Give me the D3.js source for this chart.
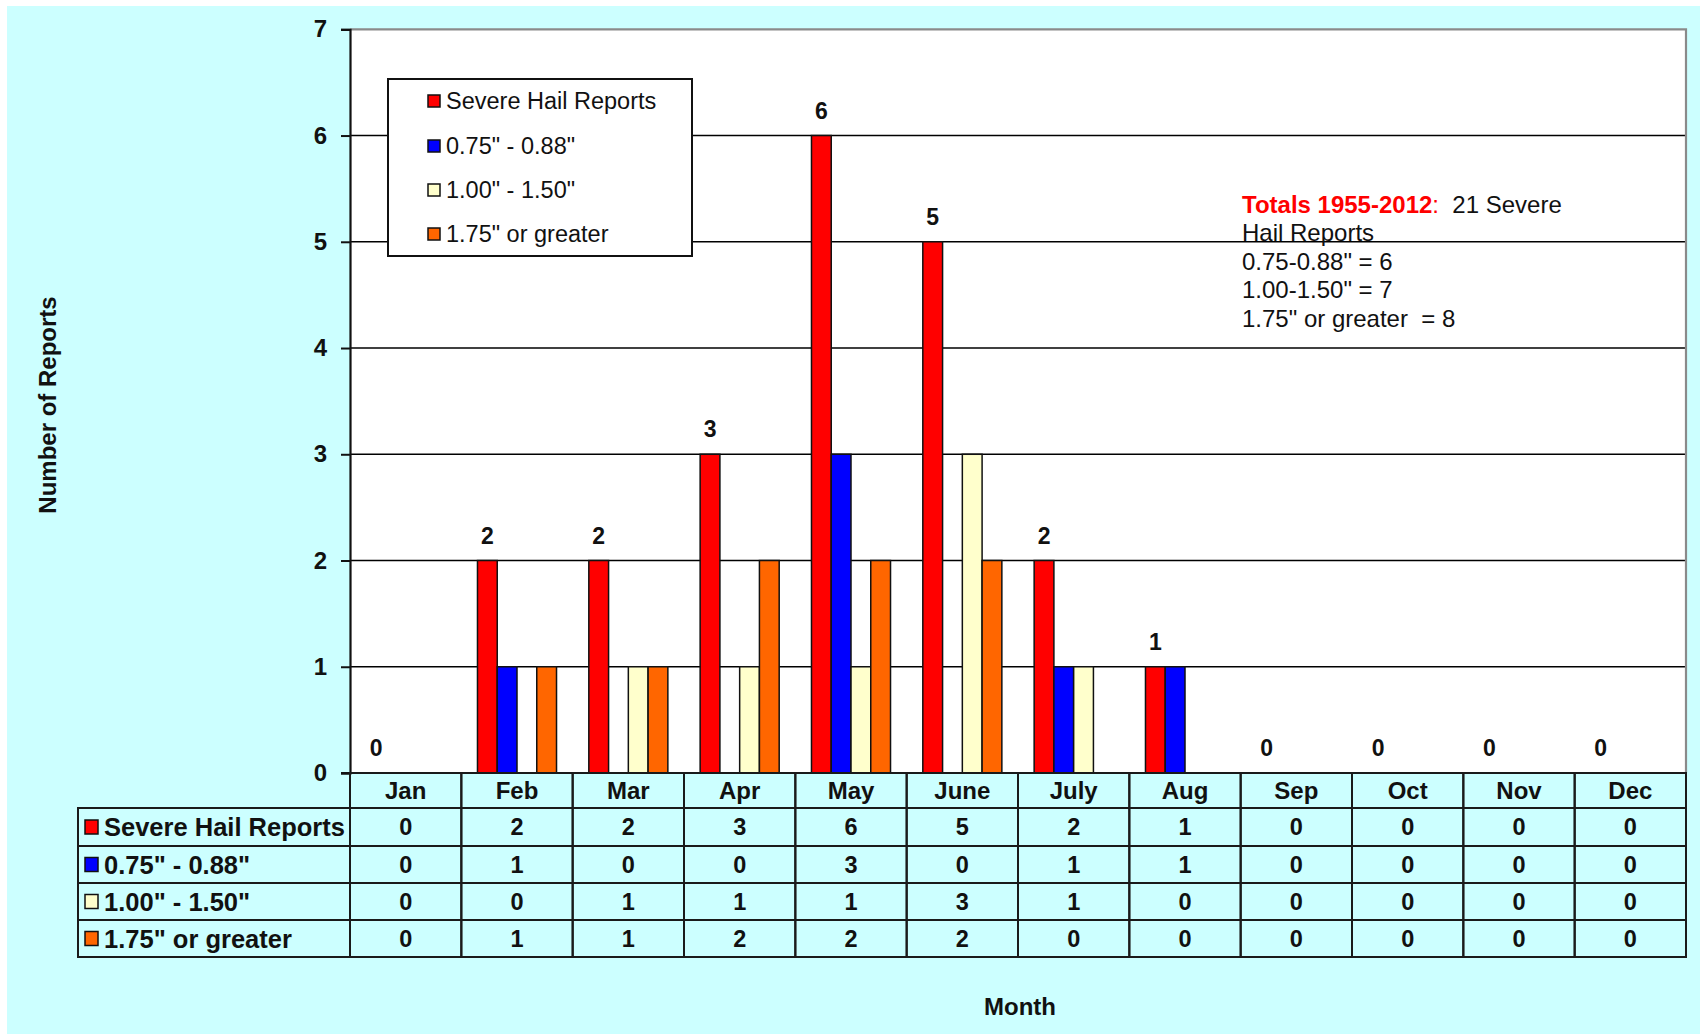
<!DOCTYPE html>
<html>
<head>
<meta charset="utf-8">
<script src="https://cdn.jsdelivr.net/npm/d3@7"></script>
<style>
  html, body { margin: 0; padding: 0; background: #ffffff; }
  svg { display: block; font-family: "Liberation Sans", Arial, sans-serif; }
</style>
</head>
<body>
<svg id="chart" width="1700" height="1034"></svg>
<script>
// ---- data ----
const months = ["Jan","Feb","Mar","Apr","May","June","July","Aug","Sep","Oct","Nov","Dec"];
const seriesNames = ["Severe Hail Reports", "0.75\" - 0.88\"", "1.00\" - 1.50\"", "1.75\" or greater"];
const severeHail = [0,2,2,3,6,5,2,1,0,0,0,0];
const size075 =    [0,1,0,0,3,0,1,1,0,0,0,0];
const size100 =    [0,0,1,1,1,3,1,0,0,0,0,0];
const size175 =    [0,1,1,2,2,2,0,0,0,0,0,0];
const seriesColors = ["#FF0000", "#0000FF", "#FFFFCC", "#FF6600"];
const yTicks = [0,1,2,3,4,5,6,7];
const totalsTitle = "Totals 1955-2012:";
const totalsLines = ["  21 Severe", "Hail Reports", "0.75-0.88\" = 6", "1.00-1.50\" = 7", "1.75\" or greater  = 8"];
const yTitle = "Number of Reports";
const xTitle = "Month";

const seriesValues = [severeHail, size075, size100, size175];

// ---- layout ----
const svg = d3.select("#chart");
const W = 1700, H = 1034;
const plotL = 350, plotR = 1686, plotT = 29.3, plotB = 773;
const tableL = 78;
const rowBounds = [808, 846, 883, 920, 957];

svg.append("rect").attr("x", 7).attr("y", 6).attr("width", W - 7).attr("height", H - 6).attr("fill", "#CCFFFF");

const x = d3.scaleBand().domain(months).range([plotL, plotR]).paddingInner(0).paddingOuter(0);
const y = d3.scaleLinear().domain([0, 7]).range([plotB, plotT]);
const groupW = x.bandwidth() * 0.71;
const x1 = d3.scaleBand().domain(d3.range(seriesNames.length)).range([0, groupW]).padding(0);
const groupOff = (x.bandwidth() - groupW) / 2;

// plot area
svg.append("rect").attr("x", plotL).attr("y", plotT).attr("width", plotR - plotL).attr("height", plotB - plotT)
  .attr("fill", "#ffffff");

// gridlines
svg.append("g").selectAll("line").data(yTicks.filter(t => t > 0 && t < 7)).join("line")
  .attr("x1", plotL).attr("x2", plotR)
  .attr("y1", d => y(d)).attr("y2", d => y(d))
  .attr("stroke", "#000").attr("stroke-width", 1.6);

// plot border top/right (grey)
svg.append("path")
  .attr("d", `M${plotL},${y(7)}H${plotR}V${plotB}`)
  .attr("fill", "none").attr("stroke", "#8a8a8a").attr("stroke-width", 2.2);

// bars
const barG = svg.append("g");
seriesValues.forEach((vals, si) => {
  barG.selectAll(null).data(vals.map((v, i) => ({ v, m: months[i] }))).join("rect")
    .filter(d => d.v > 0)
    .attr("x", d => x(d.m) + groupOff + x1(si))
    .attr("y", d => y(d.v))
    .attr("width", x1.bandwidth())
    .attr("height", d => y(0) - y(d.v))
    .attr("fill", seriesColors[si])
    .attr("stroke", "#111").attr("stroke-width", 1.5);
});

// data labels (severe hail series)
svg.append("g").selectAll("text").data(severeHail.map((v, i) => ({ v, m: months[i] }))).join("text")
  .attr("x", d => x(d.m) + groupOff + x1(0) + x1.bandwidth() / 2)
  .attr("y", d => y(d.v) - 17)
  .attr("text-anchor", "middle")
  .attr("font-size", 23).attr("font-weight", "bold").attr("fill", "#111")
  .text(d => d.v);

// y axis
const yAxis = d3.axisLeft(y).tickValues(yTicks).tickSize(9).tickPadding(14).tickFormat(d3.format("d"));
const ya = svg.append("g").attr("transform", `translate(${plotL},0)`).call(yAxis);
ya.select(".domain").attr("stroke", "#111").attr("stroke-width", 2.2);
ya.selectAll(".tick line").attr("stroke", "#111").attr("stroke-width", 2);
ya.selectAll(".tick text").attr("font-size", 24).attr("font-weight", "bold").attr("fill", "#111")
  .attr("font-family", "Liberation Sans, Arial, sans-serif");

// x axis baseline
svg.append("line").attr("x1", plotL - 9).attr("x2", plotR).attr("y1", plotB).attr("y2", plotB)
  .attr("stroke", "#111").attr("stroke-width", 2.2);

// legend
const lg = svg.append("g");
lg.append("rect").attr("x", 388).attr("y", 79).attr("width", 304).attr("height", 177)
  .attr("fill", "#fff").attr("stroke", "#111").attr("stroke-width", 2);
const legY = [101, 146, 190, 234];
seriesNames.forEach((name, i) => {
  lg.append("rect").attr("x", 428).attr("y", legY[i] - 6).attr("width", 12).attr("height", 12)
    .attr("fill", seriesColors[i]).attr("stroke", "#111").attr("stroke-width", 1.5);
  lg.append("text").attr("x", 446).attr("y", legY[i]).attr("dy", "0.35em")
    .attr("font-size", 23.5).attr("fill", "#111").text(name);
});

// totals annotation
const tot = svg.append("text").attr("x", 1242).attr("y", 213).attr("font-size", 24).attr("fill", "#111");
tot.append("tspan").attr("fill", "#FF0000").attr("font-weight", "bold").text(totalsTitle.replace(":", ""));
tot.append("tspan").attr("fill", "#FF0000").text(":");
tot.append("tspan").style("white-space", "pre").text(totalsLines[0]);
totalsLines.slice(1).forEach((t, i) => {
  svg.append("text").attr("x", 1242).attr("y", 241 + i * 28.7).attr("font-size", 24).attr("fill", "#111")
    .style("white-space", "pre").text(t);
});

// ---- data table ----
const tg = svg.append("g");
const lineC = "#1a1a1a";
months.forEach(m => {
  tg.append("rect").attr("x", x(m)).attr("y", plotB).attr("width", x.bandwidth()).attr("height", rowBounds[0] - plotB)
    .attr("fill", "none").attr("stroke", lineC).attr("stroke-width", 2);
  tg.append("text").attr("x", x(m) + x.bandwidth() / 2).attr("y", (plotB + rowBounds[0]) / 2).attr("dy", "0.36em")
    .attr("text-anchor", "middle").attr("font-size", 24).attr("font-weight", "bold").attr("fill", "#111").text(m);
});
seriesValues.forEach((vals, si) => {
  const r0 = rowBounds[si], r1 = rowBounds[si + 1], cy = (r0 + r1) / 2;
  tg.append("rect").attr("x", tableL).attr("y", r0).attr("width", plotL - tableL).attr("height", r1 - r0)
    .attr("fill", "none").attr("stroke", lineC).attr("stroke-width", 2);
  tg.append("rect").attr("x", tableL + 7).attr("y", cy - 7).attr("width", 13).attr("height", 14)
    .attr("fill", seriesColors[si]).attr("stroke", "#111").attr("stroke-width", 1.5);
  tg.append("text").attr("x", tableL + 26).attr("y", cy).attr("dy", "0.36em")
    .attr("font-size", 25.5).attr("font-weight", "bold").attr("fill", "#111").text(seriesNames[si]);
  vals.forEach((v, i) => {
    const m = months[i];
    tg.append("rect").attr("x", x(m)).attr("y", r0).attr("width", x.bandwidth()).attr("height", r1 - r0)
      .attr("fill", "none").attr("stroke", lineC).attr("stroke-width", 2);
    tg.append("text").attr("x", x(m) + x.bandwidth() / 2).attr("y", cy).attr("dy", "0.36em")
      .attr("text-anchor", "middle").attr("font-size", 23.5).attr("font-weight", "bold").attr("fill", "#111").text(v);
  });
});

// axis titles
svg.append("text").attr("transform", "translate(56,405) rotate(-90)").attr("text-anchor", "middle")
  .attr("font-size", 24).attr("font-weight", "bold").attr("fill", "#111").text(yTitle);
svg.append("text").attr("x", 1020).attr("y", 1015).attr("text-anchor", "middle")
  .attr("font-size", 24).attr("font-weight", "bold").attr("fill", "#111").text(xTitle);
</script>
</body>
</html>
